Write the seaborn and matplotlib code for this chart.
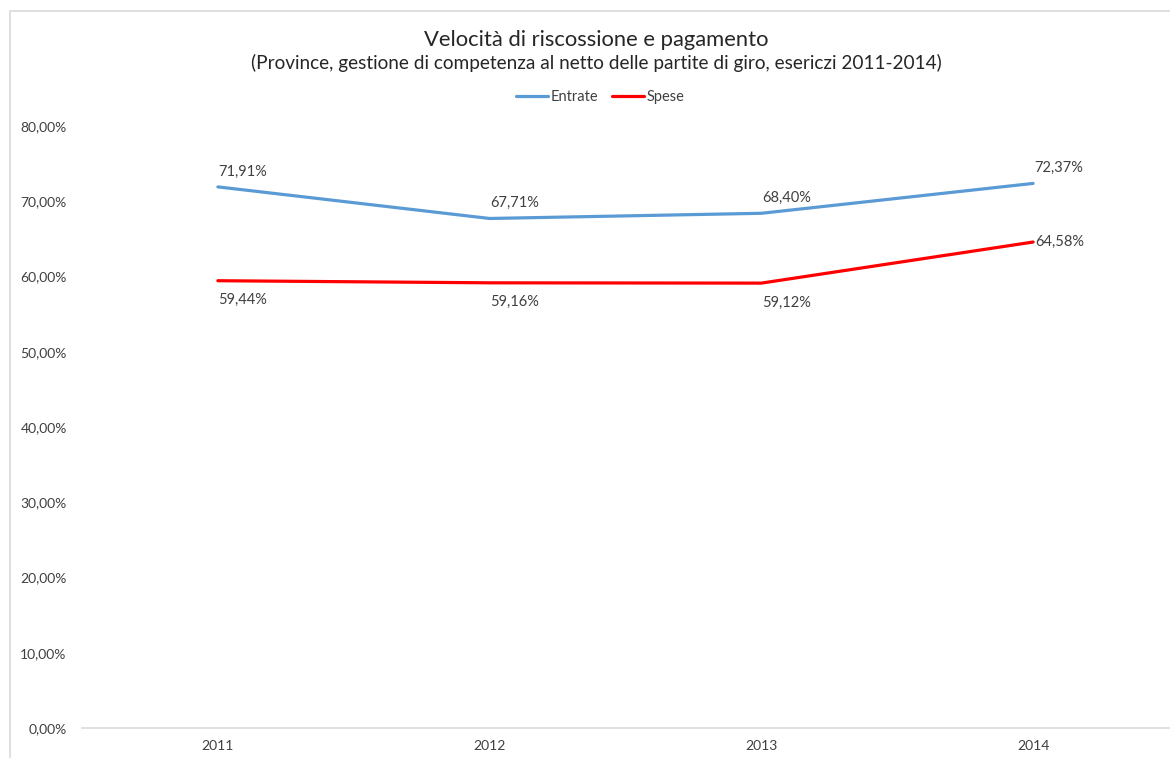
import pandas as pd
import numpy as np
import matplotlib
matplotlib.use("Agg")
import matplotlib.pyplot as plt
import seaborn as sns
from matplotlib.patches import Rectangle
from matplotlib.lines import Line2D
from matplotlib.ticker import FuncFormatter

years = ["2011", "2012", "2013", "2014"]
entrate = [71.91, 67.71, 68.40, 72.37]
spese = [59.44, 59.16, 59.12, 64.58]
series_names = ["Entrate", "Spese"]
colors = {"Entrate": "#5B9BD5", "Spese": "#FF0000"}

df = pd.DataFrame({
    "Anno": years * 2,
    "Valore": entrate + spese,
    "Serie": ["Entrate"] * 4 + ["Spese"] * 4,
})
df["x"] = df.groupby("Serie").cumcount()

sns.set_style("white")
plt.rcParams["font.family"] = ["Lato", "DejaVu Sans"]

fig = plt.figure(figsize=(11.7, 7.58), dpi=100)
ax = fig.add_axes([82 / 1170, 1 - 728 / 758, 1087 / 1170, (728 - 126) / 758])

# chart frame like the excel one
fig.patches.append(Rectangle((10 / 1170, -0.1), 1.2, 1 - 11 / 758 + 0.1, transform=fig.transFigure,
                             fill=False, edgecolor="#D9D9D9", linewidth=1.2))

sns.lineplot(data=df, x="x", y="Valore", hue="Serie", palette=colors, linewidth=2.3,
             legend=False, ax=ax, sort=False)

ax.set_xlim(-0.5, 3.5)
ax.set_ylim(0, 80)
ax.set_yticks(np.arange(0, 81, 10))
ax.yaxis.set_major_formatter(FuncFormatter(lambda v, p: f"{v:.2f}%".replace(".", ",")))
ax.set_xticks(range(4))
ax.set_xticklabels(years)
ax.tick_params(axis="both", length=0, labelsize=10, colors="#404040")
ax.tick_params(axis="y", pad=11)
ax.tick_params(axis="x", pad=9)
ax.set_xlabel("")
ax.set_ylabel("")
for s in ["top", "right", "left"]:
    ax.spines[s].set_visible(False)
ax.spines["bottom"].set_color("#D9D9D9")
ax.spines["bottom"].set_linewidth(1.2)

def fmt(v):
    return f"{v:.2f}%".replace(".", ",")

lab_size = 10.5
for i, v in enumerate(entrate):
    ax.annotate(fmt(v), (i, v), xytext=(0.5, 6), textcoords="offset points",
                ha="left", va="bottom", fontsize=lab_size, color="#404040")
for i, v in enumerate(spese):
    if i == 3:
        ax.annotate(fmt(v), (i, v), xytext=(1.5, 0), textcoords="offset points",
                    ha="left", va="center", fontsize=lab_size, color="#404040")
    else:
        ax.annotate(fmt(v), (i, v), xytext=(0.5, -9), textcoords="offset points",
                    ha="left", va="top", fontsize=lab_size, color="#404040")

fig.text(0.51, 1 - 40 / 758, "Velocità di riscossione e pagamento", ha="center", va="center",
         fontsize=15.8, color="#262626")
fig.text(0.51, 1 - 63 / 758,
         "(Province, gestione di competenza al netto delle partite di giro, esericzi 2011-2014)",
         ha="center", va="center", fontsize=13.7, color="#262626")

handles = [Line2D([0], [0], color=colors[n], linewidth=2.3) for n in series_names]
fig.legend(handles, series_names, loc="center", bbox_to_anchor=(0.513, 1 - 97 / 758), ncol=2,
           frameon=False, fontsize=10.5, handlelength=2.2, handletextpad=0.15, columnspacing=1.0,
           labelcolor="#404040")

fig.savefig("out.png", dpi=100)
